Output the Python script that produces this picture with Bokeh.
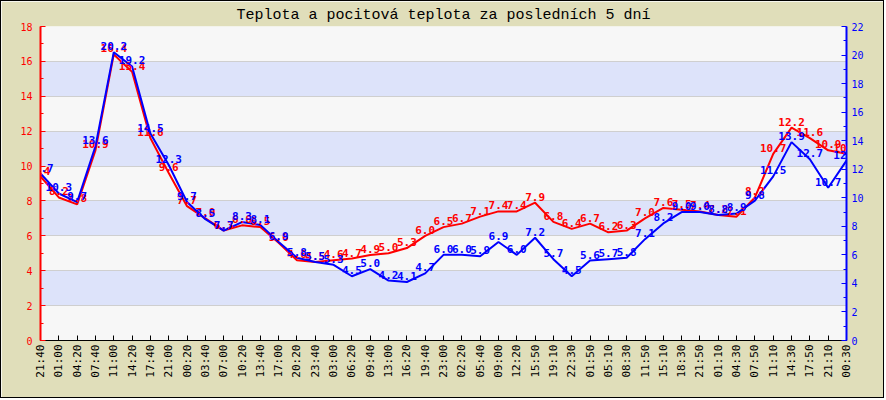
import math
from bokeh.plotting import figure
from bokeh.models import Range1d, LinearAxis, FixedTicker, SingleIntervalTicker, ColumnDataSource, Label
from bokeh.embed import file_html
from bokeh.resources import INLINE

times = ["21:40", "01:00", "04:20", "07:40", "11:00", "14:20", "17:40", "21:00", "00:20",
         "03:40", "07:00", "10:20", "13:40", "17:00", "20:20", "23:40", "03:00", "06:20",
         "09:40", "13:00", "16:20", "19:40", "23:00", "02:20", "05:40", "09:00", "12:20",
         "15:50", "19:10", "22:30", "01:50", "05:10", "08:30", "11:50", "15:10", "18:30",
         "21:50", "01:10", "04:30", "07:50", "11:10", "14:30", "17:50", "21:10", "00:30"]

teplota = [9.4, 8.2, 7.8, 10.9, 16.4, 15.4, 11.6, 9.6, 7.7, 7.0, 6.3, 6.6, 6.5, 5.6, 4.6,
           4.5, 4.6, 4.7, 4.9, 5.0, 5.3, 6.0, 6.5, 6.7, 7.1, 7.4, 7.4, 7.9, 6.8, 6.4,
           6.7, 6.2, 6.3, 7.0, 7.6, 7.5, 7.4, 7.2, 7.1, 8.2, 10.7, 12.2, 11.6, 10.9, 10.7]

pocitova = [11.7, 10.3, 9.7, 13.6, 20.2, 19.2, 14.5, 12.3, 9.7, 8.5, 7.7, 8.3, 8.1, 6.9, 5.8,
            5.5, 5.3, 4.5, 5.0, 4.2, 4.1, 4.7, 6.0, 6.0, 5.9, 6.9, 6.0, 7.2, 5.7, 4.5,
            5.6, 5.7, 5.8, 7.1, 8.2, 9.0, 9.0, 8.8, 8.9, 9.8, 11.5, 13.9, 12.7, 10.7, 12.6]

left_max = 18
right_max = 22
title = "Teplota a pocitová teplota za posledních 5 dní"

idx = list(range(len(times)))
src = ColumnDataSource(dict(x=idx, t=teplota, p=pocitova))

p = figure(width=884, height=398, output_backend="svg", toolbar_location=None,
           x_range=Range1d(0, len(times) - 1), y_range=Range1d(0, left_max),
           min_border_left=39, min_border_right=39, min_border_top=24, min_border_bottom=59,
           background_fill_color="#f7f7f7", border_fill_color="#e0deba",
           outline_line_color=None)
p.styles = {"border": "1px solid black"}

p.title.text = title
p.title.align = "center"
p.title.text_font = "Liberation Mono"
p.title.text_font_size = "15px"
p.title.text_font_style = "normal"
p.title.text_color = "black"
p.title.standoff = 6

p.extra_y_ranges = {"right": Range1d(0, right_max)}

# grid / bands
lt = SingleIntervalTicker(interval=2, num_minor_ticks=2)
p.xgrid.visible = False
p.ygrid.ticker = lt
p.ygrid.grid_line_color = "#cfcfcf"
p.ygrid.band_fill_color = "#dde3fa"
p.ygrid.band_fill_alpha = 1.0

# left axis
la = p.yaxis[0]
la.ticker = lt
la.axis_line_color = "#ff0000"
la.axis_line_width = 2
la.major_tick_line_color = "#ff0000"
la.minor_tick_line_color = "#ff0000"
la.major_tick_in = 5
la.major_tick_out = 0
la.minor_tick_in = 3
la.minor_tick_out = 0
la.major_label_text_color = "#ff0000"
la.major_label_text_font = "DejaVu Sans Mono"
la.major_label_text_font_size = "10px"
la.major_label_standoff = 8

# right axis
ra = LinearAxis(y_range_name="right", ticker=SingleIntervalTicker(interval=2, num_minor_ticks=2))
ra.axis_line_color = "#0000ff"
ra.axis_line_width = 2
ra.major_tick_line_color = "#0000ff"
ra.minor_tick_line_color = "#0000ff"
ra.major_tick_in = 5
ra.major_tick_out = 0
ra.minor_tick_in = 3
ra.minor_tick_out = 0
ra.major_label_text_color = "#0000ff"
ra.major_label_text_font = "DejaVu Sans Mono"
ra.major_label_text_font_size = "10px"
ra.major_label_standoff = 5
p.add_layout(ra, "right")

# bottom axis
xa = p.xaxis[0]
xa.ticker = FixedTicker(ticks=idx, minor_ticks=[])
xa.major_label_overrides = {i: t for i, t in zip(idx, times)}
xa.major_label_orientation = math.pi / 2
xa.axis_line_color = "black"
xa.major_tick_line_color = "black"
xa.major_tick_in = 5
xa.major_tick_out = 0
xa.major_label_text_color = "black"
xa.major_label_text_font = "DejaVu Sans Mono"
xa.major_label_text_font_size = "11px"
xa.major_label_standoff = 4

# lines
p.line("x", "t", source=src, line_color="#ff0000", line_width=2)
p.line("x", "p", source=src, line_color="#0000ff", line_width=2, y_range_name="right")

# value labels
for i, v in zip(idx, teplota):
    p.add_layout(Label(x=i, y=v, text=f"{v:.1f}", text_color="#ff0000", text_align="center",
                       text_baseline="alphabetic", y_offset=6, text_font="DejaVu Sans Mono",
                       text_font_size="11px", text_font_style="bold"))
for i, v in zip(idx, pocitova):
    p.add_layout(Label(x=i, y=v, text=f"{v:.1f}", text_color="#0000ff", text_align="center",
                       text_baseline="alphabetic", y_offset=6, text_font="DejaVu Sans Mono",
                       text_font_size="11px", text_font_style="bold", y_range_name="right"))

open("out.html", "w").write(file_html(p, INLINE))
